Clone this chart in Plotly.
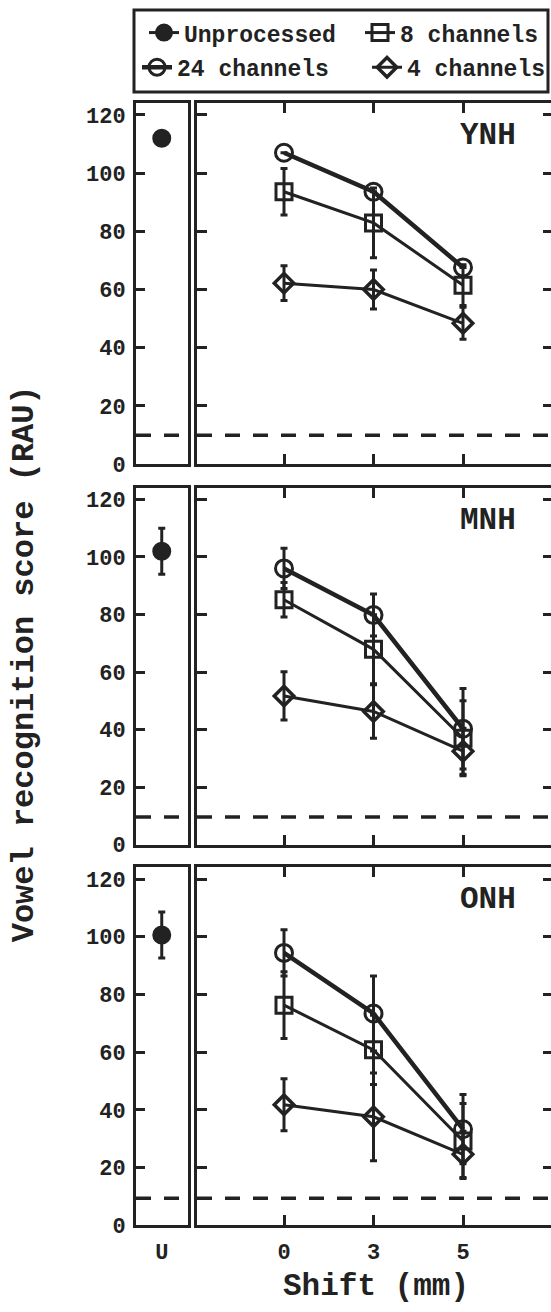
import plotly.graph_objects as go

# ---------------- data ----------------
panels = ["YNH", "MNH", "ONH"]
shift_labels = ["0", "3", "5"]
u_label = ["U"]
y_ticks = [0, 20, 40, 60, 80, 100, 120]

unproc_mean = [112.0, 102.0, 100.6]
unproc_err = [None, 8.0, 8.0]

ch24_mean = [[107.0, 93.6, 67.6], [96.0, 79.8, 40.3], [94.4, 73.4, 33.3]]
ch24_err = [[None, None, None], [7.0, 7.3, 14.0], [8.0, 13.0, 12.0]]

ch8_mean = [[93.6, 82.9, 61.5], [85.1, 67.9, 37.0], [76.3, 60.8, 29.2]]
ch8_err = [[8.0, 12.0, 7.0], [6.0, 12.0, 13.0], [11.6, 12.0, 13.0]]

ch4_mean = [[62.2, 60.0, 48.4], [51.7, 46.3, 32.5], [41.8, 37.6, 24.6]]
ch4_err = [[6.0, 6.7, 5.5], [8.4, 9.3, 8.0], [9.0, 15.2, 8.0]]

chance = [9.9, 9.6, 9.4]

# ---------------- style ----------------
W, H = 551, 1312
INK = "#222222"
FONT = "Liberation Mono"
TICKFONT = dict(family=FONT, size=22, color=INK, weight="bold")
LEGFONT = dict(family=FONT, size=23, color=INK, weight="bold")

left_dom = [136 / W, 187.5 / W]
right_dom = [197 / W, 1.0]
rows_px = [(104.5, 469.5), (493.5, 854.5), (877.5, 1239.5)]
row_dom = [[1 - b / H, 1 - t / H] for (t, b) in rows_px]
YR = [0, 124]
XR_RIGHT = [-0.972, 2.983]


def ax(letter, n):
    return letter if n == 1 else f"{letter}{n}"


def err(arr):
    return dict(type="data", array=arr, visible=True, thickness=3, width=3.5, color=INK)


fig = go.Figure()

for r in range(3):
    xl, yl = ax("x", 2 * r + 1), ax("y", 2 * r + 1)
    xr, yr = ax("x", 2 * r + 2), ax("y", 2 * r + 2)
    show = r == 0
    fig.add_trace(go.Scatter(
        x=u_label, y=[unproc_mean[r]], error_y=err([unproc_err[r]]),
        mode="lines+markers", name="Unprocessed", legend="legend", showlegend=show,
        marker=dict(symbol="circle", size=17, color=INK, line=dict(width=2, color=INK)),
        line=dict(width=3, color=INK), xaxis=xl, yaxis=yl))
    fig.add_trace(go.Scatter(
        x=shift_labels, y=ch24_mean[r], error_y=err(ch24_err[r]),
        mode="lines+markers", name="24 channels", legend="legend3", showlegend=show,
        marker=dict(symbol="circle-open", size=17, color=INK, line=dict(width=3, color=INK)),
        line=dict(width=4.5, color=INK), xaxis=xr, yaxis=yr))
    fig.add_trace(go.Scatter(
        x=shift_labels, y=ch8_mean[r], error_y=err(ch8_err[r]),
        mode="lines+markers", name="8 channels", legend="legend2", showlegend=show,
        marker=dict(symbol="square-open", size=16, color=INK, line=dict(width=3, color=INK)),
        line=dict(width=3, color=INK), xaxis=xr, yaxis=yr))
    fig.add_trace(go.Scatter(
        x=shift_labels, y=ch4_mean[r], error_y=err(ch4_err[r]),
        mode="lines+markers", name="4 channels", legend="legend4", showlegend=show,
        marker=dict(symbol="diamond-open", size=15, color=INK, line=dict(width=3.5, color=INK)),
        line=dict(width=3, color=INK), xaxis=xr, yaxis=yr))
    # empty trace that carries the right-hand tick axis
    fig.add_trace(go.Scatter(x=[], y=[], xaxis=xr, yaxis=f"y{7 + r}",
                             showlegend=False, hoverinfo="skip"))

    # chance-level dashed lines
    for xa, ya in ((xl, yl), (xr, yr)):
        fig.add_shape(type="line", xref=f"{xa} domain", x0=0, x1=1,
                      yref=ya, y0=chance[r], y1=chance[r],
                      line=dict(color=INK, width=3.5, dash="15px,13px"))
    # panel label
    fig.add_annotation(text=panels[r], xref=f"{xr} domain", yref=f"{yr} domain",
                       x=0.822, y=1 - 33 / 365, showarrow=False,
                       xanchor="center", yanchor="middle",
                       font=dict(family=FONT, size=31, color=INK, weight="bold"))

layout = {}
for r in range(3):
    bottom = r == 2
    nl, nr = 2 * r + 1, 2 * r + 2
    layout[f"xaxis{nl}"] = dict(
        domain=left_dom, anchor=ax("y", nl), type="category", range=[-1, 1],
        showline=True, linewidth=3, linecolor=INK, mirror=True, ticks="",
        showticklabels=bottom, tickfont=TICKFONT, showgrid=False, zeroline=False,
        ticklabelstandoff=4)
    layout[f"yaxis{nl}"] = dict(
        domain=row_dom[r], anchor=ax("x", nl), range=YR, tickvals=y_ticks,
        showline=True, linewidth=3, linecolor=INK, mirror=True,
        ticks="inside", ticklen=9, tickwidth=2.5, tickcolor=INK,
        tickfont=TICKFONT, showgrid=False, zeroline=False, ticklabelstandoff=3)
    layout[f"xaxis{nr}"] = dict(
        domain=right_dom, anchor=ax("y", nr), type="category", range=XR_RIGHT,
        showline=True, linewidth=3, linecolor=INK, mirror="ticks",
        ticks="inside", ticklen=10, tickwidth=2.5, tickcolor=INK,
        showticklabels=bottom, tickfont=TICKFONT, showgrid=False, zeroline=False,
        ticklabelstandoff=4)
    layout[f"yaxis{nr}"] = dict(
        domain=row_dom[r], anchor=ax("x", nr), range=YR, tickvals=y_ticks,
        showline=True, linewidth=3, linecolor=INK, mirror=False,
        ticks="inside", ticklen=10, tickwidth=2.5, tickcolor=INK,
        showticklabels=False, showgrid=False, zeroline=False)
    layout[f"yaxis{7 + r}"] = dict(
        overlaying=ax("y", nr), side="right", anchor=ax("x", nr), range=YR,
        tickvals=y_ticks, showline=False, ticks="inside", ticklen=8,
        tickwidth=2.5, tickcolor=INK, showticklabels=False, showgrid=False,
        zeroline=False)

layout["xaxis"] = layout.pop("xaxis1")
layout["yaxis"] = layout.pop("yaxis1")
fig.update_layout(**layout)


def leg(x_px, y_px):
    return dict(orientation="h", x=x_px / W, xanchor="left", y=1 - y_px / H,
                yanchor="middle", bgcolor="rgba(0,0,0,0)", borderwidth=0,
                font=LEGFONT)


fig.update_layout(
    width=W, height=H, margin=dict(l=0, r=0, t=0, b=0),
    paper_bgcolor="white", plot_bgcolor="white",
    showlegend=True,
    legend=leg(144, 33),
    legend2=leg(360, 33),
    legend3=leg(137, 68),
    legend4=leg(367, 68),
)

# legend frame
fig.add_shape(type="rect", xref="paper", yref="paper",
              x0=134 / W, x1=548 / W, y0=1 - 93 / H, y1=1 - 10 / H,
              line=dict(color=INK, width=3))

# axis titles
fig.add_annotation(text="Vowel recognition score (RAU)", xref="paper", yref="paper",
                   x=24 / W, y=1 - 672 / H, textangle=-90, showarrow=False,
                   xanchor="center", yanchor="middle",
                   font=dict(family=FONT, size=32, color=INK, weight="bold"))
fig.add_annotation(text="Shift (mm)", xref="paper", yref="paper",
                   x=376 / W, y=1 - 1301 / H, showarrow=False,
                   xanchor="center", yanchor="middle",
                   font=dict(family=FONT, size=31, color=INK, weight="bold"))

fig.write_html(
    "out.html",
    config={"displayModeBar": False},
    post_script="document.body.style.margin='0';document.body.style.padding='0';"
                "document.documentElement.style.overflow='hidden';",
)
